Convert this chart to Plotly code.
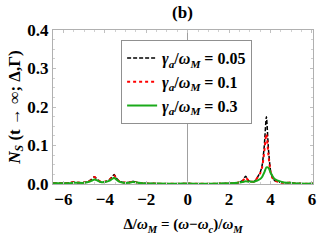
import plotly.graph_objects as go

# Detuning grid (Delta / omega_M)
delta = [-6.5, -6.0, -5.7, -5.5, -5.3, -5.0, -4.8, -4.65, -4.5, -4.35, -4.2, -4.0, -3.8, -3.65,
         -3.55, -3.45, -3.3, -3.1, -2.85, -2.65, -2.45, -2.2, -1.5, 0.0, 1.5, 2.4, 2.65, 2.8,
         2.95, 3.2, 3.5, 3.6, 3.7, 3.8, 3.9, 4.0, 4.1, 4.2, 4.5, 4.8, 4.95, 5.1, 5.5, 6.05]

ns_005 = [0.002, 0.002, 0.003, 0.005, 0.003, 0.004, 0.006, 0.012, 0.019, 0.011, 0.006, 0.006, 0.010, 0.018,
          0.025, 0.016, 0.007, 0.004, 0.004, 0.007, 0.004, 0.002, 0.001, 0.001, 0.001, 0.003, 0.009, 0.020,
          0.008, 0.006, 0.030, 0.050, 0.100, 0.175, 0.090, 0.035, 0.016, 0.009, 0.004, 0.003, 0.004, 0.002, 0.001, 0.001]

ns_01 = [0.002, 0.002, 0.003, 0.005, 0.004, 0.004, 0.006, 0.011, 0.018, 0.011, 0.006, 0.006, 0.010, 0.017,
         0.022, 0.015, 0.007, 0.004, 0.004, 0.006, 0.004, 0.002, 0.001, 0.001, 0.001, 0.003, 0.008, 0.017,
         0.008, 0.006, 0.028, 0.045, 0.085, 0.130, 0.075, 0.032, 0.015, 0.009, 0.004, 0.003, 0.004, 0.002, 0.001, 0.001]

ns_03 = [0.002, 0.002, 0.002, 0.003, 0.003, 0.003, 0.005, 0.008, 0.012, 0.009, 0.005, 0.005, 0.008, 0.013,
         0.016, 0.012, 0.006, 0.003, 0.003, 0.005, 0.004, 0.002, 0.001, 0.001, 0.001, 0.003, 0.005, 0.007,
         0.006, 0.006, 0.013, 0.019, 0.030, 0.043, 0.042, 0.030, 0.020, 0.013, 0.006, 0.003, 0.003, 0.002, 0.001, 0.001]

x_ticks = [-6, -4, -2, 0, 2, 4, 6]
x_tick_text = ["−6", "−4", "−2", "0", "2", "4", "6"]
y_ticks = [0.0, 0.1, 0.2, 0.3, 0.4]
y_tick_text = ["0.0", "0.1", "0.2", "0.3", "0.4"]

FONT = "Liberation Serif"

fig = go.Figure()
fig.add_trace(go.Scatter(x=delta, y=ns_005, mode="lines",
                         line=dict(color="black", width=1.5, dash="4px,2px", shape="spline", smoothing=0.6),
                         name="<i>γ<sub>a</sub></i>/<i>ω<sub>M</sub></i> = 0.05"))
fig.add_trace(go.Scatter(x=delta, y=ns_01, mode="lines",
                         line=dict(color="red", width=2, dash="dot", shape="spline", smoothing=0.6),
                         name="<i>γ<sub>a</sub></i>/<i>ω<sub>M</sub></i> = 0.1"))
fig.add_trace(go.Scatter(x=delta, y=ns_03, mode="lines",
                         line=dict(color="#1aaa1a", width=2, shape="spline", smoothing=0.6),
                         name="<i>γ<sub>a</sub></i>/<i>ω<sub>M</sub></i> = 0.3"))

axis_common = dict(showline=True, linecolor="#b0b0b0", linewidth=1, mirror="ticks",
                   ticks="inside", ticklen=3, tickcolor="#c0c0c0", showgrid=False,
                   tickfont=dict(family=FONT, size=17, color="black", weight="bold"))

fig.update_xaxes(range=[-6.5, 6.05], tickvals=x_ticks, ticktext=x_tick_text,
                 zeroline=True, zerolinecolor="#a0a0a0", zerolinewidth=1,
                 minor=dict(ticks="inside", ticklen=2, tickcolor="#d0d0d0", dtick=0.5),
                 title=dict(text="<b>Δ/<i>ω<sub>M</sub></i> = (<i>ω</i>−<i>ω<sub>c</sub></i>)/<i>ω<sub>M</sub></i></b>",
                            font=dict(family=FONT, size=15, color="black"), standoff=10),
                 **axis_common)
fig.update_yaxes(range=[0, 0.4], tickvals=y_ticks, ticktext=y_tick_text, zeroline=False,
                 minor=dict(ticks="inside", ticklen=2, tickcolor="#d0d0d0", dtick=0.025),
                 title=dict(text="<b><i>N<sub>S</sub></i> (t → ∞; Δ,Γ)</b>",
                            font=dict(family=FONT, size=17, color="black"), standoff=2),
                 **axis_common)

fig.update_layout(
    width=327, height=245,
    margin=dict(l=53, r=14, t=30, b=61, autoexpand=False),
    paper_bgcolor="white", plot_bgcolor="white",
    title=dict(text="<b>(b)</b>", x=0.558, xanchor="center", y=0.952, yanchor="middle",
               font=dict(family=FONT, size=17, color="black")),
    legend=dict(x=0.262, y=0.935, xanchor="left", yanchor="top",
                bgcolor="white", bordercolor="#909090", borderwidth=1,
                font=dict(family=FONT, size=16, color="black", weight="bold"),
                itemwidth=30, tracegroupgap=0),
    showlegend=True,
)

fig.write_html("out.html", config={"displayModeBar": False},
               post_script="document.body.style.margin='0';document.body.style.overflow='hidden';")
